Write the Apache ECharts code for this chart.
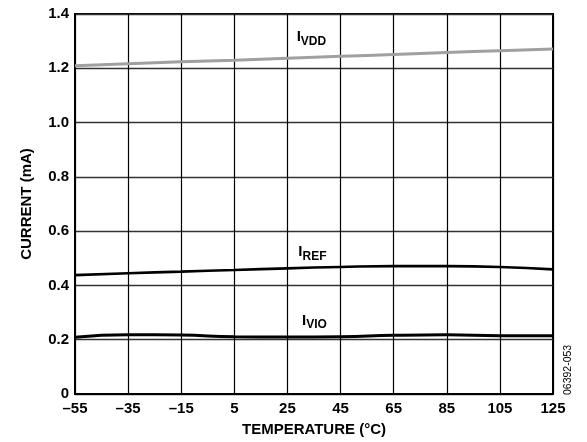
<!DOCTYPE html>
<html><head><meta charset="utf-8">
<script src="https://cdn.jsdelivr.net/npm/echarts@6/dist/echarts.min.js"></script>
<style>html,body{margin:0;padding:0;background:#fff}#c{width:587px;height:442px}</style>
</head><body><div id="c"></div>
<script>
const temps = ['–55','–35','–15','5','25','45','65','85','105','125'];
const yTicks = [0, 0.2, 0.4, 0.6, 0.8, 1.0, 1.2, 1.4];
const iVdd = [1.209, 1.217, 1.224, 1.230, 1.237, 1.244, 1.251, 1.258, 1.265, 1.271];
const iRef = [0.438, 0.445, 0.451, 0.457, 0.463, 0.468, 0.471, 0.471, 0.468, 0.459];
const iVio = [0.209, 0.218, 0.217, 0.211, 0.210, 0.211, 0.216, 0.218, 0.215, 0.215];
const labels = [
  {name:'VDD', x:'25', y:1.316, dx:24},
  {name:'REF', x:'25', y:0.523, dx:25},
  {name:'VIO', x:'25', y:0.271, dx:27}
];
const FONT = '"Liberation Sans", Arial, sans-serif';
const chart = echarts.init(document.getElementById('c'), null, {renderer:'canvas'});
function lbl(l){
  return {
    coord:[l.x, l.y], value:l.name,
    label:{show:true, position:'inside', offset:[l.dx, 0],
      formatter:'{i|I}{s|'+l.name+'}',
      rich:{i:{fontFamily:FONT,fontWeight:'bold',fontSize:15,color:'#000'},
            s:{fontFamily:FONT,fontWeight:'bold',fontSize:12,color:'#000',padding:[9,0,0,0]}}}
  };
}
chart.setOption({
  animation:false,
  grid:{left:75,right:34,top:14,bottom:46,show:true,borderColor:'#000',borderWidth:2,backgroundColor:'transparent'},
  xAxis:{type:'category',data:temps,boundaryGap:false,
    name:'TEMPERATURE (°C)',nameLocation:'middle',nameGap:28,
    nameTextStyle:{fontFamily:FONT,fontWeight:'bold',fontSize:15,color:'#000'},
    axisLine:{lineStyle:{color:'#000',width:2}},axisTick:{show:false},
    axisLabel:{fontFamily:FONT,fontWeight:'bold',fontSize:15,color:'#000',margin:7},
    splitLine:{show:true,lineStyle:{color:'#000',width:1.2}}},
  yAxis:{type:'value',min:yTicks[0],max:yTicks[yTicks.length-1],interval:0.2,
    name:'CURRENT (mA)',nameLocation:'middle',nameGap:41,
    nameTextStyle:{fontFamily:FONT,fontWeight:'bold',fontSize:15,color:'#000'},
    axisLine:{show:true,lineStyle:{color:'#000',width:2}},axisTick:{show:false},
    axisLabel:{fontFamily:FONT,fontWeight:'bold',fontSize:15,color:'#000',margin:6,
      formatter:v=>v===0?'0':v.toFixed(1)},
    splitLine:{show:true,lineStyle:{color:'#333',width:1.4}}},
  series:[
    {type:'line',data:iVdd,smooth:true,symbol:'none',lineStyle:{color:'#a0a0a0',width:3},z:3,
     markPoint:{symbol:'circle',symbolSize:0,data:[lbl(labels[0])]}},
    {type:'line',data:iRef,smooth:true,symbol:'none',lineStyle:{color:'#000',width:2.6},z:3,
     markPoint:{symbol:'circle',symbolSize:0,data:[lbl(labels[1])]}},
    {type:'line',data:iVio,smooth:true,symbol:'none',lineStyle:{color:'#000',width:3},z:3,
     markPoint:{symbol:'circle',symbolSize:0,data:[lbl(labels[2])]}}
  ],
  graphic:[{type:'text',x:568,y:395,rotation:Math.PI/2,
    style:{text:'06392-053',font:'10.5px '+FONT,fill:'#000',textAlign:'left',textVerticalAlign:'middle'}}]
});
</script></body></html>
